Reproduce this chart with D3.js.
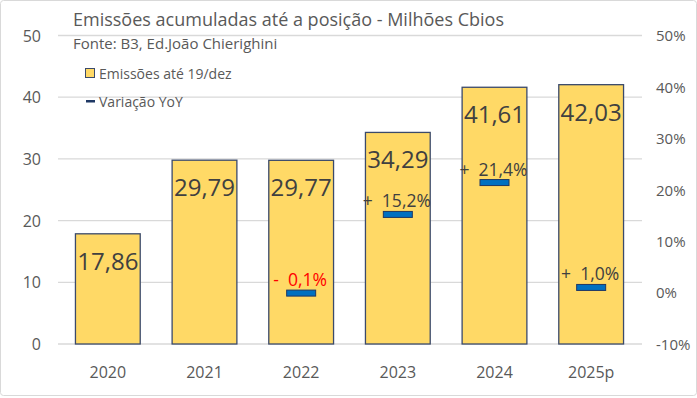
<!DOCTYPE html>
<html><head><meta charset="utf-8">
<script src="https://cdn.jsdelivr.net/npm/d3@7/dist/d3.min.js"></script>
<style>body{margin:0;background:#fff}svg{display:block;font-family:"Open Sans",sans-serif}</style>
</head><body><svg id="c" width="697" height="398"></svg>
<script>
const categories = ["2020","2021","2022","2023","2024","2025p"];
const emissoes = [17.86, 29.79, 29.77, 34.29, 41.61, 42.03];
const variacao = [null, null, -0.1, 15.2, 21.4, 1.0];
const varLabels = [null, null, "- 0,1%", "+ 15,2%", "+ 21,4%", "+ 1,0%"];
const leftTicks = [0,10,20,30,40,50];
const rightTicks = [-10,0,10,20,30,40,50];

const svg = d3.select("#c");
const W = 697, H = 398;
const x0 = 59.5, x1 = 639.5, yTop = 35.5, yBot = 344;

svg.append("rect").attr("x",0.5).attr("y",0.5).attr("width",W-1).attr("height",H-3)
  .attr("rx",3).attr("fill","#fff").attr("stroke","#d9d9d9");

const x = d3.scaleBand().domain(categories).range([x0,x1]).paddingInner(0.33).paddingOuter(0.165);
const y = d3.scaleLinear().domain([0,50]).range([yBot,yTop]);
const y2 = d3.scaleLinear().domain([-10,50]).range([yBot,yTop]);

// gridlines
svg.append("g").selectAll("line").data(leftTicks).join("line")
  .attr("x1",58).attr("x2",642).attr("y1",d=>y(d)).attr("y2",d=>y(d))
  .attr("stroke","#d9d9d9").attr("stroke-width",1.3);

// left axis
const la = svg.append("g").attr("transform","translate(41,0)")
  .call(d3.axisLeft(y).tickValues(leftTicks).tickSize(0).tickPadding(0));
la.select(".domain").remove();
la.selectAll("text").attr("fill","#595959").style("font-size","16px").style("font-family","'Open Sans',sans-serif").attr("dy","0.35em");

// right axis
const ra = svg.append("g").attr("transform","translate(656,0)")
  .call(d3.axisRight(y2).tickValues(rightTicks).tickSize(0).tickPadding(0).tickFormat(d=>d+"%"));
ra.select(".domain").remove();
ra.selectAll("text").attr("fill","#595959").style("font-size","15px").style("font-family","'Open Sans',sans-serif").attr("dy","0.35em");

// x axis
const xa = svg.append("g").attr("transform",`translate(0,${yBot})`)
  .call(d3.axisBottom(x).tickSize(0).tickPadding(0));
xa.select(".domain").remove();
xa.selectAll("text").attr("fill","#595959").style("font-size","16px").style("font-family","'Open Sans',sans-serif").attr("dy","2.15em");

// bars
svg.append("g").selectAll("rect").data(emissoes).join("rect")
  .attr("x",(d,i)=>x(categories[i])).attr("width",x.bandwidth())
  .attr("y",d=>y(d)).attr("height",d=>yBot-y(d))
  .attr("fill","#FFD966").attr("stroke","#3b4a6b").attr("stroke-width",1.3);

svg.append("g").selectAll("text").data(emissoes).join("text")
  .attr("x",(d,i)=>x(categories[i])+x.bandwidth()/2).attr("y",d=>y(d)+36)
  .attr("text-anchor","middle").attr("fill","#404040").style("font-size","24px")
  .text(d=>d.toFixed(2).replace(".",","));

// YoY markers
const vi = variacao.map((v,i)=>({v,i,l:varLabels[i]})).filter(d=>d.v!==null);
svg.append("g").selectAll("rect").data(vi).join("rect")
  .attr("x",d=>x(categories[d.i])+x.bandwidth()/2-14.5).attr("width",29)
  .attr("y",d=>y2(d.v)-3).attr("height",6)
  .attr("fill","#0070C0").attr("stroke","#1f3864").attr("stroke-width",1);
svg.append("g").selectAll("text").data(vi).join("text")
  .attr("x",d=>x(categories[d.i])+x.bandwidth()/2-1).attr("y",d=>y2(d.v)-7)
  .attr("text-anchor","middle").style("font-size","17.5px").attr("xml:space","preserve")
  .style("white-space","pre")
  .attr("fill",d=>d.v<0?"#FF0000":"#404040").text(d=>d.l.replace(" ","  "));

// title
svg.append("text").attr("x",73).attr("y",26).attr("fill","#595959").style("font-size","18px")
  .text("Emissões acumuladas até a posição - Milhões Cbios");
svg.append("text").attr("x",73).attr("y",49).attr("fill","#595959").style("font-size","15px")
  .text("Fonte: B3, Ed.João Chierighini");

// legend
svg.append("rect").attr("x",85.5).attr("y",68.5).attr("width",9).attr("height",9)
  .attr("fill","#FFD966").attr("stroke","#3b4a6b");
svg.append("text").attr("x",99).attr("y",79).attr("fill","#595959").style("font-size","14px").text("Emissões até 19/dez");
svg.append("rect").attr("x",86).attr("y",100).attr("width",9).attr("height",2.5).attr("fill","#1f3864");
svg.append("text").attr("x",99).attr("y",107).attr("fill","#595959").style("font-size","14px").text("Variação YoY");
</script></body></html>
